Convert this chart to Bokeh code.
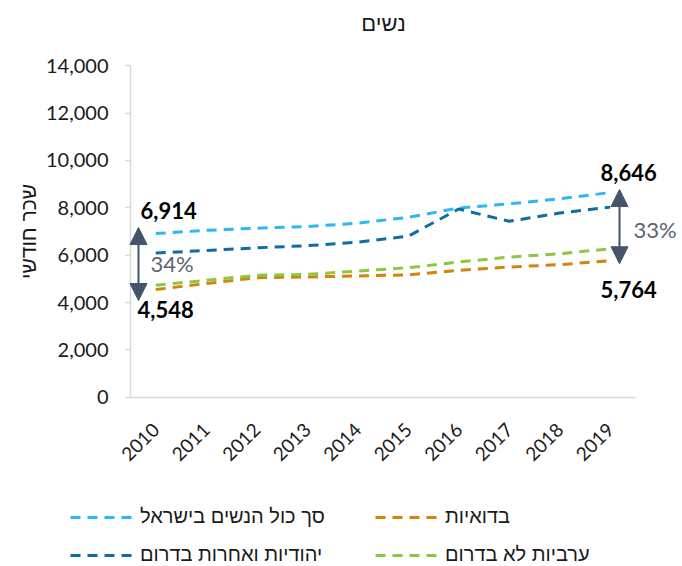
from math import pi
from bokeh.plotting import figure
from bokeh.models import (Legend, LegendItem, Arrow, NormalHead, FixedTicker,
                          NumeralTickFormatter, Range1d)
from bokeh.core.properties import value
from bokeh.embed import file_html
from bokeh.resources import INLINE

# ---- data ----
years = [2010, 2011, 2012, 2013, 2014, 2015, 2016, 2017, 2018, 2019]
year_labels = [str(y) for y in years]
total_israel = [6914, 7050, 7140, 7210, 7350, 7600, 7990, 8170, 8380, 8646]
jewish_other_south = [6090, 6200, 6310, 6400, 6550, 6800, 7950, 7430, 7780, 8030]
arab_not_south = [4730, 4940, 5150, 5190, 5330, 5470, 5710, 5920, 6060, 6270]
bedouin = [4548, 4800, 5050, 5080, 5120, 5170, 5360, 5500, 5600, 5764]

series_names = ["סך כול הנשים בישראל", "יהודיות ואחרות בדרום", "בדואיות", "ערביות לא בדרום"]
series_colors = ["#2EB6F6", "#0D6EA6", "#D5830C", "#8DC63F"]
y_ticks = [0, 2000, 4000, 6000, 8000, 10000, 12000, 14000]
title_text = "נשים"
y_title = "שכר חודשי"

NUM_FONT = "Lato"
HEB_FONT = "Liberation Sans"
TXT = "#1A1A1A"
GRID = "#D9D9D9"
ANN = "#44546A"

# ---- layout geometry (screen pixels) ----
W, H = 682, 566
PX_LEFT = 130.0      # left edge of the plotting area
STEP = 50.5          # pixels per year
PX_ZERO = 396.7      # pixel row of value 0
PX_PER_UNIT = (PX_ZERO - 65.3) / y_ticks[-1]

x_lo = years[0] - 0.5
y_top = y_ticks[-1]


def xd(px):
    return x_lo + (px - PX_LEFT) / STEP


def yd(py):
    return (PX_ZERO - py) / PX_PER_UNIT


def py_of(v):
    return PX_ZERO - v * PX_PER_UNIT


p = figure(width=W, height=H, output_backend="svg", toolbar_location=None,
           x_range=Range1d(xd(0), xd(W)), y_range=Range1d(yd(H), yd(0)),
           min_border=0)
p.outline_line_color = None
p.xgrid.grid_line_color = None
p.ygrid.grid_line_color = None
p.background_fill_color = "white"
p.border_fill_color = "white"

# x axis (drawn at value 0)
p.xaxis.fixed_location = 0
p.xaxis.bounds = (x_lo, years[-1] + 0.5)
p.xaxis.ticker = FixedTicker(ticks=years)
p.xaxis.major_label_overrides = {y: l for y, l in zip(years, year_labels)}
p.xaxis.major_label_orientation = pi / 4
p.xaxis.major_tick_line_color = None
p.xaxis.major_tick_out = 0
p.xaxis.minor_tick_line_color = None
p.xaxis.axis_line_color = GRID
p.xaxis.axis_line_width = 1.5
p.xaxis.major_label_text_font = NUM_FONT
p.xaxis.major_label_text_font_size = "19px"
p.xaxis.major_label_text_color = TXT
p.xaxis.major_label_standoff = 29

# y axis (drawn at left edge of data area)
p.yaxis.fixed_location = x_lo
p.yaxis.bounds = (0, y_top)
p.yaxis.ticker = FixedTicker(ticks=y_ticks)
p.yaxis.formatter = NumeralTickFormatter(format="0,0")
p.yaxis.axis_line_color = GRID
p.yaxis.axis_line_width = 1.5
p.yaxis.major_tick_line_color = GRID
p.yaxis.major_tick_line_width = 1.5
p.yaxis.major_tick_out = 5
p.yaxis.major_tick_in = 0
p.yaxis.minor_tick_line_color = None
p.yaxis.major_label_text_font = NUM_FONT
p.yaxis.major_label_text_font_size = "20px"
p.yaxis.major_label_text_color = TXT
p.yaxis.major_label_standoff = 17
p.yaxis.axis_label = y_title
p.yaxis.axis_label_text_font = HEB_FONT
p.yaxis.axis_label_text_font_size = "21px"
p.yaxis.axis_label_text_font_style = "normal"
p.yaxis.axis_label_text_color = TXT
p.yaxis.axis_label_standoff = 3

# title
p.text(x=[xd(383)], y=[yd(23)], text=[title_text], text_font=value(HEB_FONT),
       text_font_size="22px", text_color=TXT, text_align="center",
       text_baseline="middle")

series = [total_israel, jewish_other_south, bedouin, arab_not_south]
renderers = []
for vals, col in zip(series, series_colors):
    r = p.line(years, vals, line_color=col, line_width=3, line_dash="10 7")
    renderers.append(r)

items = [LegendItem(label=n, renderers=[r]) for n, r in zip(series_names, renderers)]
legend = Legend(items=items, ncols=2, location=(70, 0),
                glyph_width=63, glyph_height=20, label_width=220, label_height=22,
                label_standoff=7, spacing=15, padding=0, margin=0,
                label_text_font=HEB_FONT, label_text_font_size="20px",
                label_text_color=TXT, border_line_color=None,
                background_fill_alpha=0)
p.add_layout(legend, "center")

# annotations: gap arrows at first and last year
first_hi, first_lo = total_israel[0], bedouin[0]
last_hi, last_lo = total_israel[-1], bedouin[-1]


def head():
    return NormalHead(size=17, fill_color=ANN, line_color=ANN)


ax1 = xd(138)
ax2 = xd(619)
p.add_layout(Arrow(x_start=ax1, y_start=yd(py_of(first_lo) + 11),
                   x_end=ax1, y_end=yd(py_of(first_hi) - 6),
                   start=head(), end=head(), line_color=ANN, line_width=2))
p.add_layout(Arrow(x_start=ax2, y_start=yd(py_of(last_lo) + 3),
                   x_end=ax2, y_end=yd(py_of(last_hi) - 3),
                   start=head(), end=head(), line_color=ANN, line_width=2))

p.text(x=[xd(140), xd(137), xd(600), xd(600)],
       y=[yd(py_of(first_hi) - 23), yd(py_of(first_lo) + 20),
          yd(py_of(last_hi) - 20), yd(py_of(last_lo) + 29)],
       text=[f"{first_hi:,}", f"{first_lo:,}", f"{last_hi:,}", f"{last_lo:,}"],
       text_font=value(NUM_FONT), text_font_size="22px", text_font_style="bold",
       text_color="#000000", text_align="left", text_baseline="middle")
pct_first = round((first_hi - first_lo) / first_hi * 100)
pct_last = round((last_hi - last_lo) / last_hi * 100)
p.text(x=[xd(150), xd(633)],
       y=[yd(263), yd(229)],
       text=[f"{pct_first}%", f"{pct_last}%"],
       text_font=value(NUM_FONT), text_font_size="22px", text_font_style="normal",
       text_color="#5A6470", text_align="left", text_baseline="middle")

open("out.html", "w").write(file_html(p, INLINE))
